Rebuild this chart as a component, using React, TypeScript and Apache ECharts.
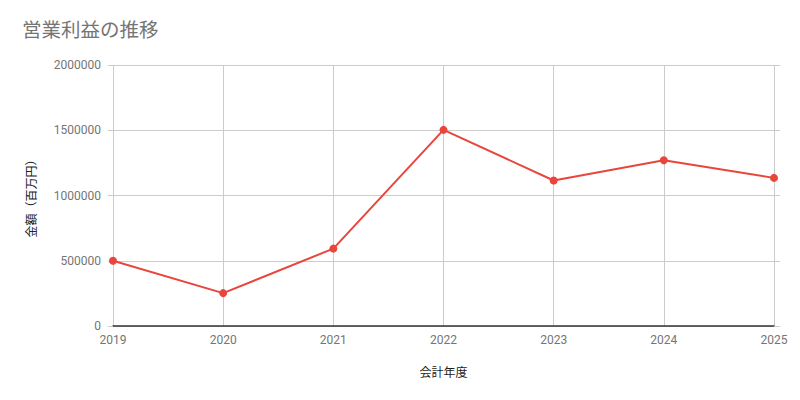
import React, { useEffect, useRef } from "react";
import * as echarts from "echarts";

const years = ["2019", "2020", "2021", "2022", "2023", "2024", "2025"];
const operatingProfit = [500000, 252000, 593000, 1503000, 1115000, 1270000, 1135000];
const yTicks = { min: 0, max: 2000000, interval: 500000 };

export default function App() {
  const ref = useRef<HTMLDivElement>(null);
  useEffect(() => {
    const chart = echarts.init(ref.current!, null, { renderer: "svg" });
    const font = "Roboto, 'Noto Sans CJK JP', sans-serif";
    chart.setOption({
      animation: false,
      textStyle: { fontFamily: font },
      title: {
        text: "営業利益の推移",
        left: 9,
        top: 8,
        textStyle: { fontSize: 19.5, fontWeight: "normal", color: "#757575", fontFamily: font },
      },
      grid: { left: 105, right: 18, top: 57, bottom: 66, containLabel: false },
      xAxis: {
        type: "category",
        data: years,
        boundaryGap: false,
        name: "会計年度",
        nameLocation: "middle",
        nameGap: 41,
        nameTextStyle: { fontSize: 12, color: "#222222", fontFamily: font },
        axisLine: { show: true, lineStyle: { color: "#333333", width: 1.5 } },
        axisTick: { show: false },
        axisLabel: { color: "#757575", fontSize: 12, margin: 8, fontFamily: font },
        splitLine: { show: true, lineStyle: { color: "#cccccc", width: 1 } },
      },
      yAxis: [
        {
          type: "value",
          min: yTicks.min,
          max: yTicks.max,
          interval: yTicks.interval,
          name: "金額（百万円）",
          nameLocation: "middle",
          nameGap: 75,
          nameRotate: 90,
          nameTextStyle: { fontSize: 12, color: "#222222", fontFamily: font },
          axisLine: { show: false },
          axisTick: { show: true, length: 5, lineStyle: { color: "#cccccc" } },
          axisLabel: {
            color: "#757575",
            fontSize: 12,
            margin: 12,
            fontFamily: font,
            formatter: (v: number) => String(v),
          },
          splitLine: { show: true, lineStyle: { color: "#cccccc", width: 1 } },
        },
        {
          type: "value",
          position: "right",
          min: yTicks.min,
          max: yTicks.max,
          interval: yTicks.interval,
          axisLine: { show: false },
          axisTick: { show: true, length: 6, lineStyle: { color: "#cccccc" } },
          axisLabel: { show: false },
          splitLine: { show: false },
        },
      ],
      series: [
        {
          type: "line",
          data: operatingProfit,
          yAxisIndex: 0,
          color: "#e8453c",
          lineStyle: { width: 2, color: "#e8453c" },
          itemStyle: { color: "#e8453c" },
          symbol: "circle",
          symbolSize: 8,
        },
      ],
    });
    return () => chart.dispose();
  }, []);
  return <div ref={ref} style={{ width: 784, height: 384 }} />;
}
